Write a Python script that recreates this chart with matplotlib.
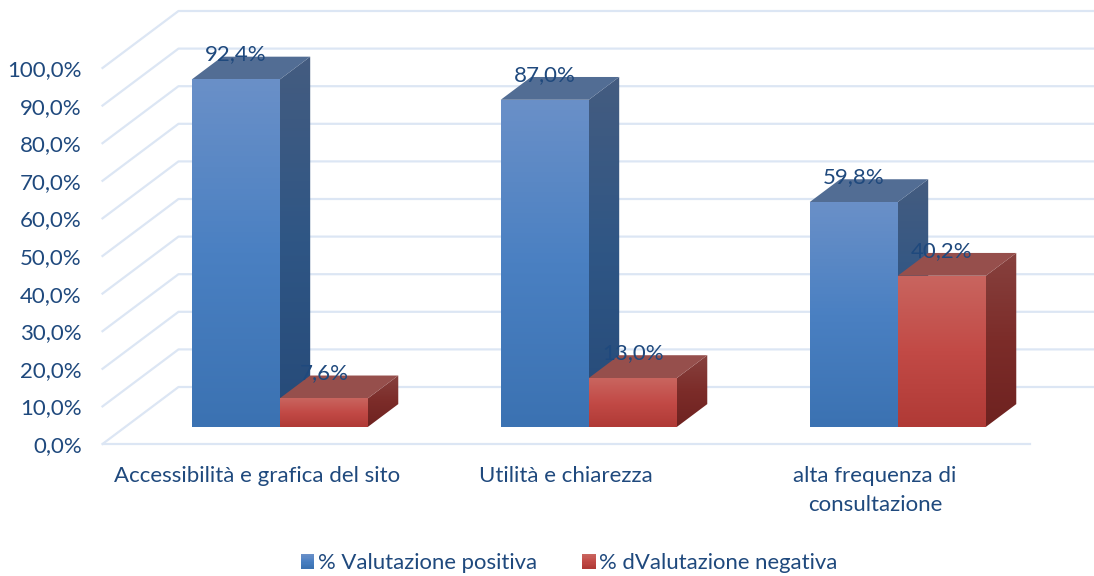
import matplotlib
matplotlib.use("Agg")
import matplotlib.pyplot as plt
import numpy as np
from matplotlib.colors import LinearSegmentedColormap
from matplotlib.legend_handler import HandlerBase
from matplotlib.patches import Patch, Polygon, Rectangle

plt.rcParams["font.family"] = ["Lato", "DejaVu Sans"]

categories = ["Accessibilità e grafica del sito", "Utilità e chiarezza",
              "alta frequenza di\nconsultazione"]
positive = [92.4, 87.0, 59.8]
negative = [7.6, 13.0, 40.2]
series_names = ["% Valutazione positiva", "% dValutazione negativa"]
y_ticks = [0, 10, 20, 30, 40, 50, 60, 70, 80, 90, 100]

TEXT = "#1f497d"
GRID = "#dce6f4"
FS = 16

blue_front = LinearSegmentedColormap.from_list("bf", ["#3b72b2", "#4a80c2", "#6a90c8"])
blue_side = LinearSegmentedColormap.from_list("bs", ["#264a78", "#2f5685", "#445c80"])
red_front = LinearSegmentedColormap.from_list("rf", ["#b03a36", "#c24a46", "#c9655f"])
red_side = LinearSegmentedColormap.from_list("rs", ["#6e2220", "#7c2c29", "#87413e"])
blue_top = "#526d94"
red_top = "#964f4c"

fig = plt.figure(figsize=(10.94, 5.76), dpi=100)
ax = fig.add_axes([102.5 / 1094, (576 - 444) / 576, 927 / 1094, 376 / 576])
ax.set_xlim(-0.5, 2.5)
ax.set_ylim(0, 100)
ax.autoscale(False)

# oblique depth, d=0 is the front of the floor and d=1 the back wall
DX = 76 / 309
DY = 57 / 3.76


def project(x, v, d):
    return x + d * DX, v + d * DY


def grad_face(points, cmap, z):
    xs = [p[0] for p in points]
    ys = [p[1] for p in points]
    im = ax.imshow(np.linspace(1, 0, 128).reshape(-1, 1), cmap=cmap, vmin=0, vmax=1,
                   extent=(min(xs), max(xs), min(ys), max(ys)), aspect="auto",
                   zorder=z, interpolation="bilinear")
    poly = Polygon(points, transform=ax.transData)
    im.set_clip_path(poly)
    im.set_clip_box(fig.bbox)


def draw_bar(x0, x1, v, front, side, top, z):
    d0, d1 = 0.3, 0.7
    grad_face([project(x0, 0, d0), project(x1, 0, d0), project(x1, v, d0), project(x0, v, d0)],
              front, z + 0.2)
    grad_face([project(x1, 0, d0), project(x1, 0, d1), project(x1, v, d1), project(x1, v, d0)],
              side, z)
    ax.add_patch(Polygon([project(x0, v, d0), project(x1, v, d0), project(x1, v, d1), project(x0, v, d1)],
                         facecolor=top, edgecolor="none", zorder=z + 0.1, clip_on=False))


# walls
for t in y_ticks:
    px, py = zip(project(-0.5, t, 0), project(-0.5, t, 1), project(2.5, t, 1))
    ax.plot(px, py, color=GRID, lw=1.6, clip_on=False, zorder=1)

width = 0.285
for i in range(len(categories)):
    draw_bar(i - width, i, positive[i], blue_front, blue_side, blue_top, 3)
    draw_bar(i, i + width, negative[i], red_front, red_side, red_top, 4)
    for x, v in ((i - width / 2, positive[i]), (i + width / 2, negative[i])):
        ax.annotate(f"{v:.1f}%".replace(".", ","), project(x, v, 0.3), xytext=(0, 18),
                    textcoords="offset points", ha="center", va="center",
                    color=TEXT, fontsize=FS, zorder=8, annotation_clip=False)

for s in ("top", "left", "right"):
    ax.spines[s].set_visible(False)
ax.spines["bottom"].set_color(GRID)
ax.spines["bottom"].set_linewidth(1.6)
ax.patch.set_visible(False)

ax.set_xticks(range(len(categories)), categories)
ax.set_yticks(y_ticks, [f"{t:.1f}%".replace(".", ",") for t in y_ticks])
ax.tick_params(axis="both", length=0, labelsize=FS, labelcolor=TEXT)
ax.tick_params(axis="y", pad=15)
ax.tick_params(axis="x", pad=15.5)
for lab in ax.get_xticklabels():
    lab.set_linespacing(1.6)


class GradHandler(HandlerBase):
    def __init__(self, cmap):
        super().__init__()
        self.cmap = cmap

    def create_artists(self, legend, orig_handle, xdescent, ydescent, width, height, fontsize, trans):
        n = 12
        out = []
        for k in range(n):
            out.append(Rectangle((-xdescent, -ydescent + height * k / n), width, height / n + 0.2,
                                 facecolor=self.cmap(k / (n - 1)), edgecolor="none", transform=trans))
        return out


h1 = Patch(label=series_names[0])
h2 = Patch(label=series_names[1])
fig.legend(handles=[h1, h2], handler_map={h1: GradHandler(blue_front), h2: GradHandler(red_front)},
           loc="center", bbox_to_anchor=(569 / 1094, (576 - 563) / 576), ncol=2, frameon=False,
           fontsize=15.9, labelcolor=TEXT, handlelength=0.62, handleheight=0.65, handletextpad=0.15,
           columnspacing=2.05, borderpad=0)

fig.savefig("out.png", dpi=100)
